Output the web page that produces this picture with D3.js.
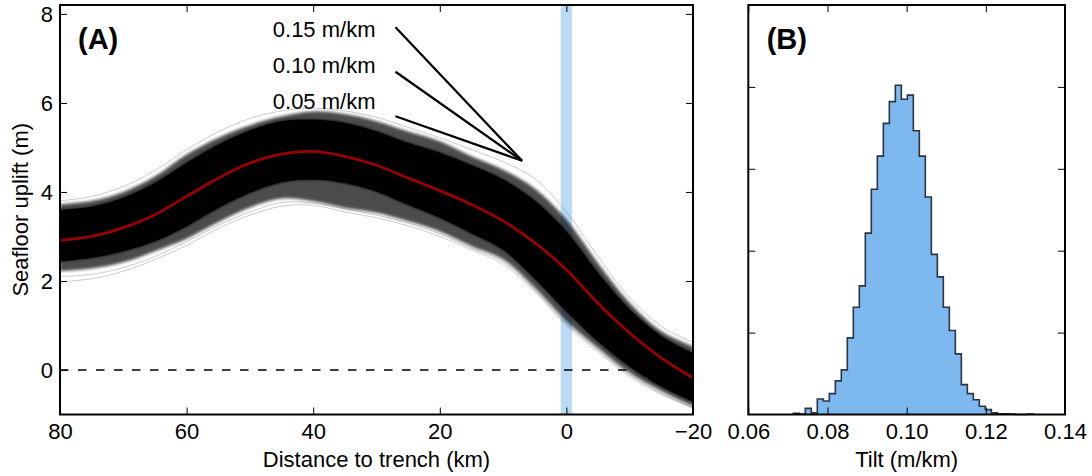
<!DOCTYPE html>
<html>
<head>
<meta charset="utf-8">
<script src="https://cdn.jsdelivr.net/npm/d3@7"></script>
<style>
  body { margin: 0; background: #fff; }
  svg { font-family: "Liberation Sans", Arial, Helvetica, sans-serif; }
  .tick text { font-size: 22px; fill: #000; }
  .tick line { stroke: #000; stroke-width: 1; }
</style>
</head>
<body>
<script>
// distance to trench (km), read every 5 km
const dist = [80, 75, 70, 65, 60, 55, 50, 45, 40, 35, 30, 25, 20, 15, 10, 5, 0, -5, -10, -15, -20]
// mean uplift (red line)
const meanUplift = [2.91, 3.00, 3.20, 3.49, 3.90, 4.31, 4.65, 4.85, 4.91, 4.80, 4.60, 4.31, 4.03, 3.72, 3.35, 2.86, 2.25, 1.50, 0.83, 0.27, -0.18]
// dense part of the sample band
const denseHi = [3.60, 3.67, 3.87, 4.20, 4.65, 5.06, 5.38, 5.59, 5.62, 5.55, 5.36, 5.10, 4.88, 4.60, 4.28, 3.80, 3.11, 2.18, 1.36, 0.76, 0.38]
const denseLo = [2.44, 2.52, 2.67, 2.89, 3.23, 3.64, 3.98, 4.22, 4.28, 4.20, 4.01, 3.71, 3.42, 3.07, 2.70, 2.05, 1.32, 0.64, 0.08, -0.37, -0.71]
// grey fringe of the band
const fringeHi = [3.72, 3.80, 4.00, 4.35, 4.84, 5.22, 5.50, 5.70, 5.81, 5.75, 5.59, 5.36, 5.14, 4.80, 4.50, 4.08, 3.38, 2.40, 1.51, 0.87, 0.53]
const fringeLo = [2.22, 2.28, 2.42, 2.67, 2.95, 3.32, 3.65, 3.85, 3.79, 3.64, 3.53, 3.34, 3.11, 2.78, 2.48, 1.84, 1.09, 0.49, -0.07, -0.48, -0.82]
// a few single outlying samples
const outliers = [
    [3.80, 3.90, 4.12, 4.48, 4.95, 5.35, 5.65, 5.82, 5.88, 5.82, 5.68, 5.45, 5.22, 4.95, 4.68, 4.30, 3.55, 2.55, 1.62, 0.98, 0.62],
    [1.98, 2.05, 2.22, 2.48, 2.80, 3.18, 3.48, 3.68, 3.70, 3.55, 3.42, 3.24, 3.00, 2.70, 2.38, 1.75, 1.00, 0.40, -0.15, -0.55, -0.86],
    [2.10, 2.15, 2.30, 2.55, 2.88, 3.25, 3.55, 3.76, 3.75, 3.62, 3.48, 3.30, 3.06, 2.74, 2.44, 1.80, 1.05, 0.45, -0.10, -0.52, -0.84]
]

// slope scale bars (m/km), drawn over 20 km ending at the apex
const slopes = [0.15, 0.10, 0.05]
const slopeLabels = ['0.15 m/km', '0.10 m/km', '0.05 m/km']
const slopeLabelY = [7.65, 6.85, 6.05]
const apex = [7, 4.7]
const slopeRun = 20

// trench band
const trenchBand = [-0.9, 0.9]

// histogram of tilt
const binStart = 0.07137
const binWidth = 0.001516
const binCounts = [3, 1, 15, 4, 38, 33, 51, 82, 109, 187, 262, 314, 443, 550, 631, 711, 764, 804, 770, 780,
    693, 631, 531, 391, 336, 262, 205, 148, 73, 51, 36, 20, 12, 4, 2, 2, 1, 0, 0, 1]

const xTicksA = [80, 60, 40, 20, 0, -20]
const yTicksA = [0, 2, 4, 6, 8]
const xTicksB = [0.06, 0.08, 0.10, 0.12, 0.14]
const yTicksB = [200, 400, 600, 800]

const W = 1092, H = 476
const yTop = 5, yBottom = 414.5
const panelA = { left: 60, right: 693 }
const panelB = { left: 748.3, right: 1065 }
const tick = 7

const svg = d3.select('body').append('svg')
    .attr('width', W)
    .attr('height', H)

const defs = svg.append('defs')
defs.append('filter').attr('id', 'soft')
    .attr('x', '-5%').attr('y', '-20%').attr('width', '110%').attr('height', '140%')
    .append('feGaussianBlur').attr('stdDeviation', 1.6)

// ---------- panel A ----------
const xA = d3.scaleLinear().domain([80, -20]).range([panelA.left, panelA.right])
const yA = d3.scaleLinear().domain([-1, 8.2]).range([yBottom, yTop])

const gA = svg.append('g')

defs.append('clipPath').attr('id', 'clipA')
    .append('rect')
    .attr('x', panelA.left).attr('y', yTop)
    .attr('width', panelA.right - panelA.left).attr('height', yBottom - yTop)

const plotA = gA.append('g').attr('clip-path', 'url(#clipA)')

// trench band
plotA.append('rect')
    .attr('x', xA(trenchBand[1]))
    .attr('y', yTop)
    .attr('width', xA(trenchBand[0]) - xA(trenchBand[1]))
    .attr('height', yBottom - yTop)
    .attr('fill', '#b9dbf6')

// zero line
plotA.append('line')
    .attr('x1', xA(80)).attr('x2', xA(-20))
    .attr('y1', yA(0)).attr('y2', yA(0))
    .attr('stroke', '#000')
    .attr('stroke-width', 1.5)
    .attr('stroke-dasharray', '8.5,9.5')

const pts = (arr) => dist.map((d, i) => [d, arr[i]])

const area = d3.area()
    .x(d => xA(d[0]))
    .y0(d => yA(d[1]))
    .y1(d => yA(d[2]))
    .curve(d3.curveCatmullRom)

const line = d3.line()
    .x(d => xA(d[0]))
    .y(d => yA(d[1]))
    .curve(d3.curveCatmullRom)

// outlying samples
outliers.forEach(o => {
    plotA.append('path')
        .datum(pts(o))
        .attr('d', line)
        .attr('fill', 'none')
        .attr('stroke', '#000')
        .attr('stroke-opacity', 0.3)
        .attr('stroke-width', 0.7)
})

// fringe, softened
plotA.append('path')
    .datum(dist.map((d, i) => [d, fringeLo[i], fringeHi[i]]))
    .attr('d', area)
    .attr('fill', '#000')
    .attr('fill-opacity', 0.7)
    .attr('filter', 'url(#soft)')

// dense band
plotA.append('path')
    .datum(dist.map((d, i) => [d, denseLo[i], denseHi[i]]))
    .attr('d', area)
    .attr('fill', '#000')
    .attr('filter', 'url(#soft)')
plotA.append('path')
    .datum(dist.map((d, i) => [d, denseLo[i], denseHi[i]]))
    .attr('d', area)
    .attr('fill', '#000')

// mean
plotA.append('path')
    .datum(pts(meanUplift))
    .attr('d', line)
    .attr('fill', 'none')
    .attr('stroke', '#990000')
    .attr('stroke-width', 2.8)

// slope scale bars
slopes.forEach((s, i) => {
    gA.append('line')
        .attr('x1', xA(apex[0] + slopeRun)).attr('y1', yA(apex[1] + s * slopeRun))
        .attr('x2', xA(apex[0])).attr('y2', yA(apex[1]))
        .attr('stroke', '#000')
        .attr('stroke-width', 2.2)
    gA.append('text')
        .attr('x', xA(apex[0] + slopeRun) - 20)
        .attr('y', yA(slopeLabelY[i]))
        .attr('text-anchor', 'end')
        .attr('dy', '0.36em')
        .style('font-size', '22px')
        .text(slopeLabels[i])
})

// axes A
gA.append('g')
    .attr('transform', `translate(0,${yBottom})`)
    .call(d3.axisBottom(xA).tickValues(xTicksA).tickSize(-tick).tickPadding(9)
        .tickFormat(d => d < 0 ? '\u2212' + Math.abs(d) : d))
    .call(g => g.select('.domain').remove())

gA.append('g')
    .attr('transform', `translate(0,${yTop})`)
    .call(d3.axisTop(xA).tickValues(xTicksA).tickSize(-tick).tickFormat(''))
    .call(g => g.select('.domain').remove())

gA.append('g')
    .attr('transform', `translate(${panelA.left},0)`)
    .call(d3.axisLeft(yA).tickValues(yTicksA).tickSize(-tick).tickPadding(7))
    .call(g => g.select('.domain').remove())
    .call(g => g.selectAll('.tick text').attr('dy', '0.36em'))

gA.append('g')
    .attr('transform', `translate(${panelA.right},0)`)
    .call(d3.axisRight(yA).tickValues(yTicksA).tickSize(-tick).tickFormat(''))
    .call(g => g.select('.domain').remove())

gA.append('rect')
    .attr('x', panelA.left).attr('y', yTop)
    .attr('width', panelA.right - panelA.left).attr('height', yBottom - yTop)
    .attr('fill', 'none')
    .attr('stroke', '#000')
    .attr('stroke-width', 2)

gA.append('text')
    .attr('x', (panelA.left + panelA.right) / 2)
    .attr('y', 467)
    .attr('text-anchor', 'middle')
    .style('font-size', '22px')
    .text('Distance to trench (km)')

gA.append('text')
    .attr('transform', `translate(28,${(yTop + yBottom) / 2}) rotate(-90)`)
    .attr('text-anchor', 'middle')
    .style('font-size', '22px')
    .text('Seafloor uplift (m)')

gA.append('text')
    .attr('x', 78).attr('y', 49)
    .style('font-size', '29px')
    .style('font-weight', 'bold')
    .text('(A)')

// ---------- panel B ----------
const xB = d3.scaleLinear().domain([0.06, 0.14]).range([panelB.left, panelB.right])
const yB = d3.scaleLinear().domain([0, 1000]).range([yBottom, yTop])

const gB = svg.append('g')

// stepfilled outline built from bins
const step = [[binStart, 0]]
binCounts.forEach((c, i) => {
    const x0 = binStart + i * binWidth
    step.push([x0, c], [x0 + binWidth, c])
})
step.push([binStart + binCounts.length * binWidth, 0])

gB.append('path')
    .datum(step)
    .attr('d', d3.line().x(d => xB(d[0])).y(d => yB(d[1])))
    .attr('fill', '#7db9ef')
    .attr('stroke', '#2b3440')
    .attr('stroke-width', 1.6)
    .attr('stroke-linejoin', 'miter')

gB.append('g')
    .attr('transform', `translate(0,${yBottom})`)
    .call(d3.axisBottom(xB).tickValues(xTicksB).tickSize(-tick).tickPadding(9).tickFormat(d3.format('.2f')))
    .call(g => g.select('.domain').remove())

gB.append('g')
    .attr('transform', `translate(0,${yTop})`)
    .call(d3.axisTop(xB).tickValues(xTicksB).tickSize(-tick).tickFormat(''))
    .call(g => g.select('.domain').remove())

gB.append('g')
    .attr('transform', `translate(${panelB.left},0)`)
    .call(d3.axisLeft(yB).tickValues(yTicksB).tickSize(-tick).tickFormat(''))
    .call(g => g.select('.domain').remove())

gB.append('g')
    .attr('transform', `translate(${panelB.right},0)`)
    .call(d3.axisRight(yB).tickValues(yTicksB).tickSize(-tick).tickFormat(''))
    .call(g => g.select('.domain').remove())

gB.append('rect')
    .attr('x', panelB.left).attr('y', yTop)
    .attr('width', panelB.right - panelB.left).attr('height', yBottom - yTop)
    .attr('fill', 'none')
    .attr('stroke', '#000')
    .attr('stroke-width', 2)

gB.append('text')
    .attr('x', (panelB.left + panelB.right) / 2)
    .attr('y', 467)
    .attr('text-anchor', 'middle')
    .style('font-size', '22px')
    .text('Tilt (m/km)')

gB.append('text')
    .attr('x', 766.7).attr('y', 49)
    .style('font-size', '29px')
    .style('font-weight', 'bold')
    .text('(B)')
</script>
</body>
</html>
